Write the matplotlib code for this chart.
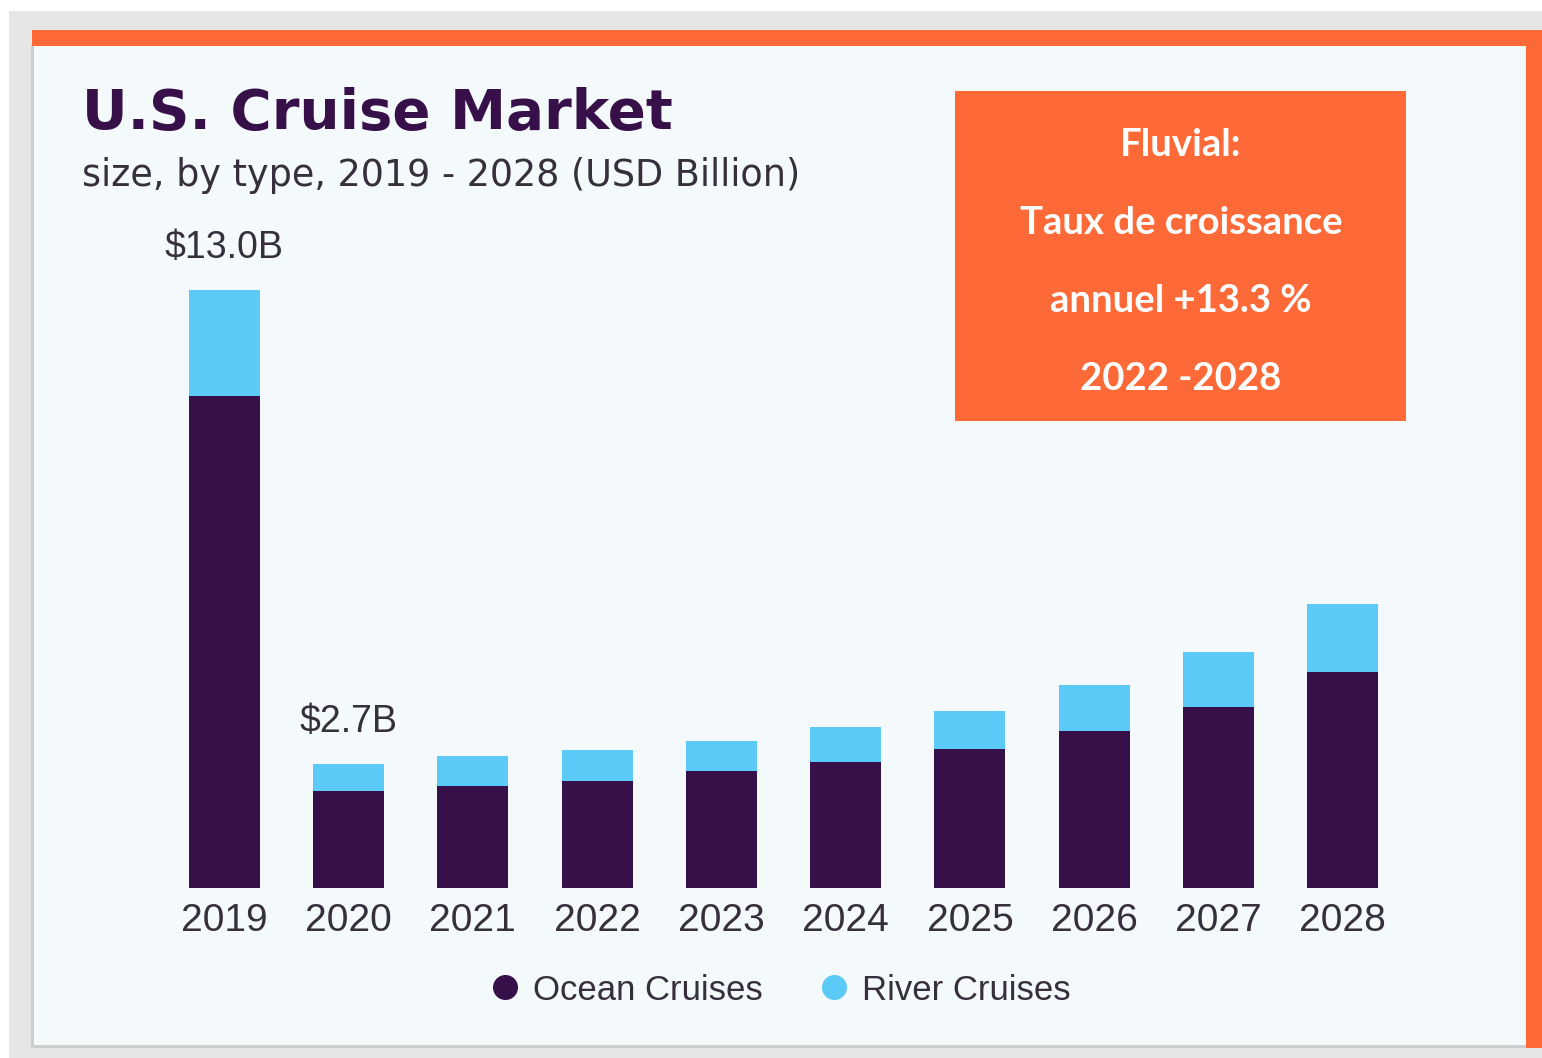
import matplotlib
matplotlib.use('Agg')
import matplotlib.pyplot as plt
from matplotlib.patches import Rectangle
from matplotlib.lines import Line2D

# US cruise market size by type (USD billion)
years = ['2019', '2020', '2021', '2022', '2023', '2024', '2025', '2026', '2027', '2028']
ocean = [10.70, 2.10, 2.22, 2.33, 2.55, 2.75, 3.03, 3.41, 3.94, 4.70]
river = [2.30, 0.60, 0.64, 0.66, 0.64, 0.75, 0.82, 1.00, 1.18, 1.48]
labelled = {0: '$13.0B', 1: '$2.7B'}

callout_lines = ['Fluvial:', 'Taux de croissance', 'annuel +13.3 %', '2022 -2028']

W, H = 1542, 1058
OCEAN = '#37104a'
RIVER = '#5ccaf6'
ORANGE = '#fd6a37'
TEXT = '#35303c'


def fx(x):
    return x / W


def fy(y):
    return 1 - y / H


def frame_rect(x0, y0, x1, y1, color, z=0):
    fig.patches.append(Rectangle((fx(x0), fy(y1)), fx(x1) - fx(x0), fy(y0) - fy(y1),
                                 transform=fig.transFigure, facecolor=color,
                                 edgecolor='none', zorder=z))


fig = plt.figure(figsize=(W / 100, H / 100), dpi=100)
fig.patch.set_facecolor('white')

# frame: grey surround, light panel, orange edges
frame_rect(9, 11, W, H, '#e6e6e6')
frame_rect(31, 45, 1526, 1048, '#cdcdcd')
frame_rect(34, 46, 1526, 1045, '#f4f9fc')
frame_rect(32, 30, W, 46, ORANGE)
frame_rect(1526, 46, W, 1048, ORANGE)
# callout box
frame_rect(955, 91, 1406, 421, ORANGE, z=1)

# axes: 0 sits at y=888px, 14 units span 644px
ax = fig.add_axes([fx(100), fy(888), fx(1467) - fx(100), fy(244) - fy(888)])
ax.set_zorder(2)
ax.set_facecolor('none')
x = list(range(len(years)))
ax.bar(x, ocean, width=0.57, color=OCEAN, zorder=2)
ax.bar(x, river, width=0.57, bottom=ocean, color=RIVER, zorder=2)
ax.set_xlim(-1, 10)
ax.set_ylim(0, 14)
ax.set_xticks(x)
ax.set_xticklabels(years, fontsize=28, color=TEXT, family='Liberation Sans')
ax.tick_params(axis='x', length=0, pad=11)
ax.set_yticks([])
for s in ax.spines.values():
    s.set_visible(False)

for i, txt in labelled.items():
    total = ocean[i] + river[i]
    ax.annotate(txt, (i, total), xytext=(0, 30), textcoords='offset points',
                ha='center', va='center', fontsize=27, color=TEXT, family='Liberation Sans')

# title block
fig.text(fx(82), fy(114), 'U.S. Cruise Market', fontsize=40.5, fontweight='bold',
         family='DejaVu Sans', color=OCEAN, va='center', ha='left', zorder=3)
fig.text(fx(82), fy(175), 'size, by type, 2019 - 2028 (USD Billion)', fontsize=26.3,
         family='DejaVu Sans', color=TEXT, va='center', ha='left', zorder=3)

for k, line in enumerate(callout_lines):
    fig.text(fx(1181), fy(145 + 78 * k), line, fontsize=27.5, fontweight='bold', family='Lato',
             color='white', ha='center', va='center', zorder=3)

handles = [Line2D([], [], marker='o', ls='', ms=17, color=OCEAN, label='Ocean Cruises'),
           Line2D([], [], marker='o', ls='', ms=17, color=RIVER, label='River Cruises')]
leg = fig.legend(handles=handles, loc='center', bbox_to_anchor=(fx(779), fy(990)), ncol=2,
                 frameon=False, prop={'family': 'Liberation Sans', 'size': 25},
                 labelcolor=TEXT, handletextpad=0.3, columnspacing=1.55, handlelength=1.0)
leg.set_zorder(3)

fig.savefig('out.png', dpi=100, facecolor=fig.get_facecolor())
